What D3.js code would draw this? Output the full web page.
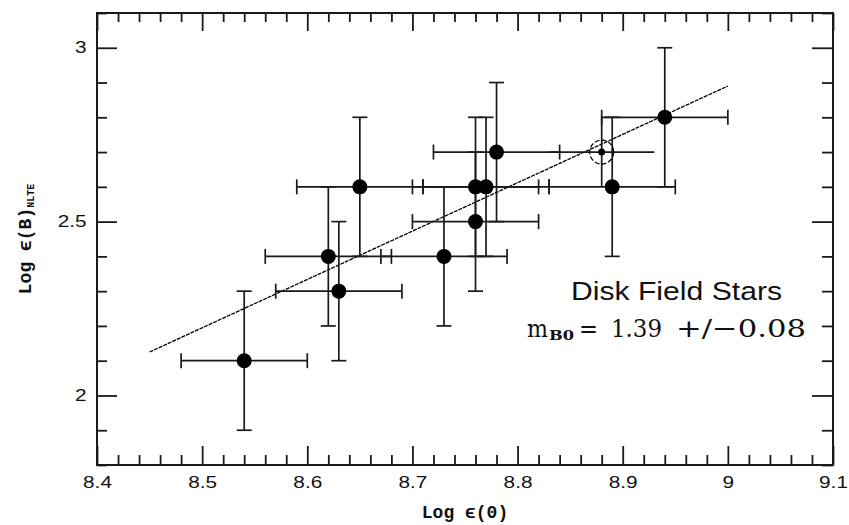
<!DOCTYPE html>
<html lang="en">
<head>
    <meta charset="UTF-8">
    <title>Log e(B) NLTE vs Log e(O) - Disk Field Stars</title>
    <script src="https://cdn.jsdelivr.net/npm/d3@7/dist/d3.min.js"></script>
    <style>
        body { margin: 0; background: #fff; }
    </style>
</head>
<body>
<script type="application/javascript">
    // stars: log eps(O), log eps(B)NLTE and their error bars
    const logO = [8.54, 8.62, 8.63, 8.65, 8.73, 8.76, 8.76, 8.77, 8.78, 8.89, 8.94];
    const logB = [2.1, 2.4, 2.3, 2.6, 2.4, 2.6, 2.5, 2.6, 2.7, 2.6, 2.8];
    const errO = [0.06, 0.06, 0.06, 0.06, 0.06, 0.06, 0.06, 0.06, 0.06, 0.06, 0.06];
    const errB = [0.2, 0.2, 0.2, 0.2, 0.2, 0.2, 0.2, 0.2, 0.2, 0.2, 0.2];

    // the sun (circled point)
    const sunO = 8.88, sunB = 2.7, sunErrO = 0.05, sunErrB = 0.1;

    // fitted line, slope 1.39
    const fitX = [8.45, 9.0];
    const fitY = [2.125, 2.89];

    const xMajor = [8.4, 8.5, 8.6, 8.7, 8.8, 8.9, 9, 9.1];
    const yMajor = [2, 2.5, 3];

    const w = 849, h = 525;
    const padL = 97, padR = 833, padT = 13, padB = 465;

    const svg = d3.select('body')
        .append('svg')
        .attr('width', w)
        .attr('height', h);

    const x = d3.scaleLinear().domain([8.4, 9.1]).range([padL, padR]);
    const y = d3.scaleLinear().domain([1.8, 3.1]).range([padB, padT]);

    const xMinor = d3.range(0, 36).map(i => +(8.4 + i * 0.02).toFixed(2))
        .filter(v => !xMajor.some(m => Math.abs(m - v) < 1e-6));
    const yMinor = d3.range(0, 14).map(i => +(1.8 + i * 0.1).toFixed(1))
        .filter(v => !yMajor.some(m => Math.abs(m - v) < 1e-6));

    const ink = '#1a1a1a';

    function styleAxis(g) {
        g.select('.domain').remove();
        g.selectAll('line').attr('stroke', ink).attr('stroke-width', 1.8);
        // the labels in the original are stretched sideways
        g.selectAll('text')
            .attr('fill', '#111')
            .attr('font-family', '"Liberation Sans", Arial, sans-serif')
            .attr('font-size', '16px')
            .attr('transform', 'scale(1.3,1)');
    }

    // bottom
    svg.append('g').attr('transform', `translate(0,${padB})`)
        .call(d3.axisBottom(x).tickValues(xMajor).tickSize(-19).tickPadding(12).tickFormat(d3.format('')))
        .call(styleAxis);
    svg.append('g').attr('transform', `translate(0,${padB})`)
        .call(d3.axisBottom(x).tickValues(xMinor).tickSize(-10).tickFormat(''))
        .call(styleAxis);
    // top
    svg.append('g').attr('transform', `translate(0,${padT})`)
        .call(d3.axisTop(x).tickValues(xMajor).tickSize(-18).tickFormat(''))
        .call(styleAxis);
    svg.append('g').attr('transform', `translate(0,${padT})`)
        .call(d3.axisTop(x).tickValues(xMinor).tickSize(-9).tickFormat(''))
        .call(styleAxis);
    // left
    svg.append('g').attr('transform', `translate(${padL},0)`)
        .call(d3.axisLeft(y).tickValues(yMajor).tickSize(-20).tickPadding(8).tickFormat(d3.format('')))
        .call(styleAxis);
    svg.append('g').attr('transform', `translate(${padL},0)`)
        .call(d3.axisLeft(y).tickValues(yMinor).tickSize(-10).tickFormat(''))
        .call(styleAxis);
    // right
    svg.append('g').attr('transform', `translate(${padR},0)`)
        .call(d3.axisRight(y).tickValues(yMajor).tickSize(-21).tickFormat(''))
        .call(styleAxis);
    svg.append('g').attr('transform', `translate(${padR},0)`)
        .call(d3.axisRight(y).tickValues(yMinor).tickSize(-11).tickFormat(''))
        .call(styleAxis);

    // frame
    svg.append('rect')
        .attr('x', padL).attr('y', padT)
        .attr('width', padR - padL).attr('height', padB - padT)
        .attr('fill', 'none').attr('stroke', ink).attr('stroke-width', 2);

    // fit line
    svg.append('line')
        .attr('x1', x(fitX[0])).attr('y1', y(fitY[0]))
        .attr('x2', x(fitX[1])).attr('y2', y(fitY[1]))
        .attr('stroke', '#000').attr('stroke-width', 1.3)
        .attr('stroke-dasharray', '4,1');

    const stars = logO.map((v, i) => ({ o: v, b: logB[i], eo: errO[i], eb: errB[i] }));
    const cap = 7.5;

    const bars = svg.append('g')
        .attr('stroke', ink).attr('stroke-width', 1.7).attr('fill', 'none');

    stars.forEach(d => {
        const cx = x(d.o), cy = y(d.b);
        const x0 = x(d.o - d.eo), x1 = x(d.o + d.eo);
        const y0 = y(d.b - d.eb), y1 = y(d.b + d.eb);
        bars.append('line').attr('x1', x0).attr('x2', x1).attr('y1', cy).attr('y2', cy);
        bars.append('line').attr('x1', x0).attr('x2', x0).attr('y1', cy - cap).attr('y2', cy + cap);
        bars.append('line').attr('x1', x1).attr('x2', x1).attr('y1', cy - cap).attr('y2', cy + cap);
        bars.append('line').attr('x1', cx).attr('x2', cx).attr('y1', y0).attr('y2', y1);
        bars.append('line').attr('x1', cx - cap).attr('x2', cx + cap).attr('y1', y0).attr('y2', y0);
        bars.append('line').attr('x1', cx - cap).attr('x2', cx + cap).attr('y1', y1).attr('y2', y1);
    });

    svg.append('g').selectAll('circle')
        .data(stars)
        .enter()
        .append('circle')
        .attr('cx', d => x(d.o))
        .attr('cy', d => y(d.b))
        .attr('r', 7.5)
        .attr('fill', '#000');

    // sun: bars without caps, dashed ring and a dot
    bars.append('line')
        .attr('x1', x(sunO - sunErrO)).attr('x2', x(sunO + sunErrO))
        .attr('y1', y(sunB)).attr('y2', y(sunB));
    bars.append('line')
        .attr('x1', x(sunO)).attr('x2', x(sunO))
        .attr('y1', y(sunB - sunErrB)).attr('y2', y(sunB + sunErrB));
    svg.append('circle')
        .attr('cx', x(sunO)).attr('cy', y(sunB)).attr('r', 12)
        .attr('fill', 'none').attr('stroke', '#000').attr('stroke-width', 1.2)
        .attr('stroke-dasharray', '5,2');
    svg.append('circle')
        .attr('cx', x(sunO)).attr('cy', y(sunB)).attr('r', 3.5)
        .attr('fill', '#000');

    // axis titles
    const titleFont = '"Liberation Mono", "DejaVu Sans Mono", monospace';
    svg.append('text')
        .attr('x', (padL + padR) / 2)
        .attr('y', 518)
        .attr('text-anchor', 'middle')
        .attr('font-family', titleFont)
        .attr('font-weight', 'bold')
        .attr('font-size', '18px')
        .attr('fill', '#111')
        .text('Log \u03F5(0)');

    const yTitle = svg.append('text')
        .attr('transform', `translate(31,${(padT + padB) / 2}) rotate(-90)`)
        .attr('text-anchor', 'middle')
        .attr('font-family', titleFont)
        .attr('font-weight', 'bold')
        .attr('font-size', '18px')
        .attr('fill', '#111');
    yTitle.append('tspan').text('Log \u03F5(B)');
    yTitle.append('tspan').attr('font-size', '10px').attr('dy', 3).text('NLTE');

    // annotation
    svg.append('text')
        .attr('x', 571)
        .attr('y', 300)
        .attr('font-family', '"Liberation Sans", Arial, sans-serif')
        .attr('font-size', '25px')
        .attr('fill', '#111')
        .attr('textLength', 211)
        .attr('lengthAdjust', 'spacingAndGlyphs')
        .text('Disk Field Stars');

    // slope label, pieces placed along the line
    const serif = '"DejaVu Serif", "Liberation Serif", serif';
    const pieces = [
        { t: 'm', x: 527, len: 21, size: 25, dy: 0, bold: false },
        { t: 'B0', x: 549, len: 25, size: 13, dy: 3, bold: true },
        { t: '=', x: 579, len: 19, size: 25, dy: 0, bold: false },
        { t: '1.39', x: 611, len: 51, size: 25, dy: 0, bold: false },
        { t: '+/\u22120.08', x: 676, len: 130, size: 25, dy: 0, bold: false }
    ];
    svg.append('g').selectAll('text')
        .data(pieces)
        .enter()
        .append('text')
        .attr('x', d => d.x)
        .attr('y', d => 337 + d.dy)
        .attr('font-family', serif)
        .attr('font-size', d => d.size + 'px')
        .attr('font-weight', d => d.bold ? 'bold' : 'normal')
        .attr('fill', '#111')
        .attr('textLength', d => d.len)
        .attr('lengthAdjust', 'spacingAndGlyphs')
        .text(d => d.t);
</script>
</body>
</html>
